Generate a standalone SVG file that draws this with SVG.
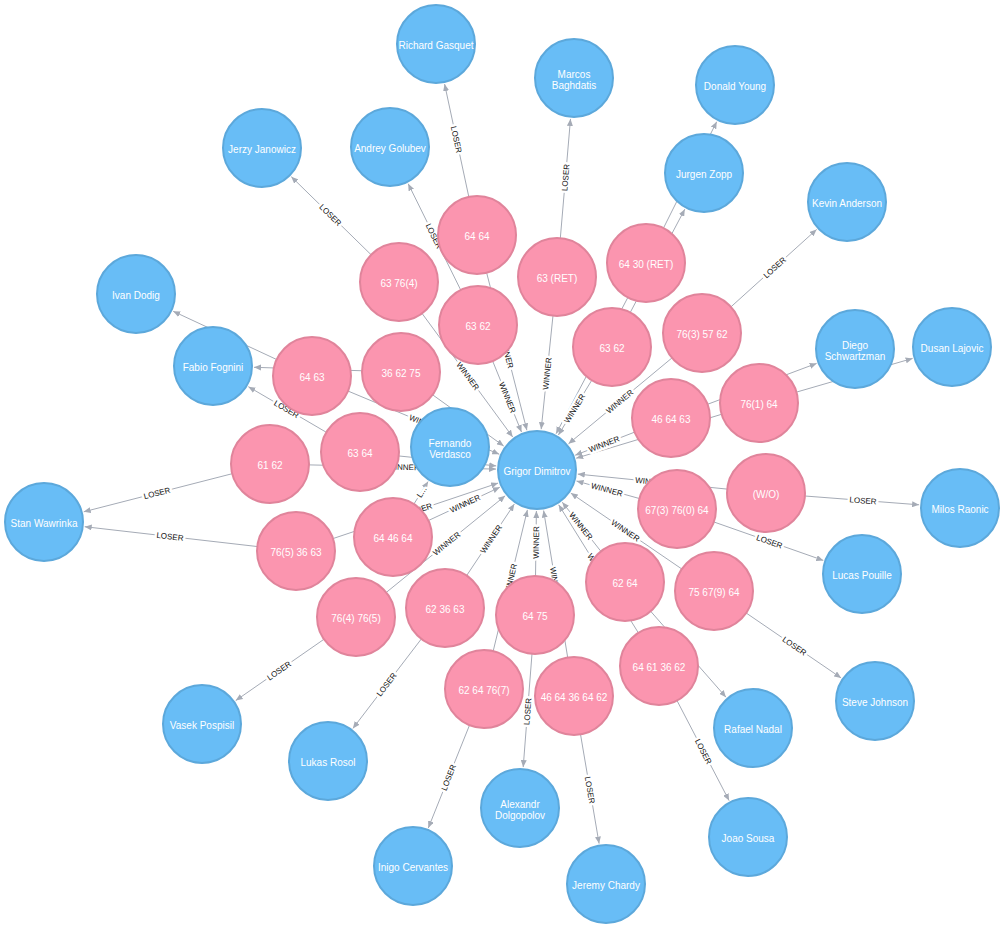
<svg xmlns="http://www.w3.org/2000/svg" width="1004" height="928" viewBox="0 0 1004 928">
<style>
.lnk{stroke:#A5ABB6;stroke-width:1;fill:none;marker-end:url(#arr)}
.lbl{font-family:"Liberation Sans",Arial,sans-serif;font-size:8px;fill:#111;text-anchor:middle;paint-order:stroke;stroke:#fff;stroke-width:5px;stroke-linejoin:round}
.pl circle{fill:#68BDF6;stroke:#5CA8DB;stroke-width:2}
.mt circle{fill:#FB95AF;stroke:#E0849B;stroke-width:2}
.cap{font-family:"Liberation Sans",Arial,sans-serif;font-size:10px;fill:#fff;text-anchor:middle}
</style>
<defs>
<marker id="arr" markerUnits="userSpaceOnUse" markerWidth="7" markerHeight="6" viewBox="0 0 7 6" refX="7" refY="3" orient="auto">
<path d="M0,0 L7,3 L0,6 z" fill="#A5ABB6"/>
</marker>
</defs>
<rect width="1004" height="928" fill="#fff"/>
<g id="connectors">
<g id="edge-lines">
<line class="lnk" x1="477" y1="235" x2="526.9" y2="430.3"/>
<line class="lnk" x1="557" y1="277" x2="541.2" y2="429.2"/>
<line class="lnk" x1="646" y1="263" x2="556.1" y2="433.7"/>
<line class="lnk" x1="399" y1="282" x2="512.7" y2="437"/>
<line class="lnk" x1="478" y1="325" x2="521.5" y2="432"/>
<line class="lnk" x1="612" y1="347" x2="558.4" y2="435"/>
<line class="lnk" x1="702" y1="333" x2="568.5" y2="443.8"/>
<line class="lnk" x1="312" y1="376" x2="499.2" y2="454.2"/>
<line class="lnk" x1="401" y1="372" x2="503.7" y2="446"/>
<line class="lnk" x1="671" y1="418" x2="575.2" y2="455.2"/>
<line class="lnk" x1="759" y1="403" x2="576.2" y2="458.2"/>
<line class="lnk" x1="270" y1="464" x2="496" y2="469.1"/>
<line class="lnk" x1="360" y1="452" x2="496.2" y2="465.9"/>
<line class="lnk" x1="766" y1="493" x2="577.8" y2="474.1"/>
<line class="lnk" x1="677" y1="509" x2="576.5" y2="481"/>
<line class="lnk" x1="393" y1="537" x2="499.8" y2="487.3"/>
<line class="lnk" x1="296" y1="551" x2="498.1" y2="483.1"/>
<line class="lnk" x1="625" y1="582" x2="562.3" y2="502.2"/>
<line class="lnk" x1="714" y1="591" x2="570.8" y2="493.1"/>
<line class="lnk" x1="356" y1="617" x2="505.2" y2="495.8"/>
<line class="lnk" x1="445" y1="608" x2="514.3" y2="504.1"/>
<line class="lnk" x1="535" y1="615" x2="536.4" y2="511"/>
<line class="lnk" x1="484" y1="689" x2="527.4" y2="509.9"/>
<line class="lnk" x1="574" y1="696" x2="543.6" y2="510.5"/>
<line class="lnk" x1="659" y1="666" x2="558.7" y2="504.8"/>
<line class="lnk" x1="477" y1="235" x2="444.6" y2="84.1"/>
<line class="lnk" x1="557" y1="277" x2="570.5" y2="118.9"/>
<line class="lnk" x1="646" y1="263" x2="716.7" y2="121.7"/>
<line class="lnk" x1="612" y1="347" x2="684.8" y2="209.2"/>
<line class="lnk" x1="702" y1="333" x2="816.6" y2="229.5"/>
<line class="lnk" x1="399" y1="282" x2="291.3" y2="176.7"/>
<line class="lnk" x1="478" y1="325" x2="408.2" y2="183.7"/>
<line class="lnk" x1="401" y1="372" x2="254" y2="367.3"/>
<line class="lnk" x1="312" y1="376" x2="173.2" y2="311.3"/>
<line class="lnk" x1="360" y1="452" x2="248.4" y2="386.7"/>
<line class="lnk" x1="270" y1="464" x2="83.7" y2="511.8"/>
<line class="lnk" x1="296" y1="551" x2="84.7" y2="526.7"/>
<line class="lnk" x1="393" y1="537" x2="428.1" y2="481.6"/>
<line class="lnk" x1="671" y1="418" x2="816.6" y2="363.4"/>
<line class="lnk" x1="759" y1="403" x2="912.6" y2="358.4"/>
<line class="lnk" x1="766" y1="493" x2="919.1" y2="504.8"/>
<line class="lnk" x1="677" y1="509" x2="823.3" y2="560.4"/>
<line class="lnk" x1="714" y1="591" x2="841.1" y2="677.9"/>
<line class="lnk" x1="625" y1="582" x2="726" y2="697.2"/>
<line class="lnk" x1="659" y1="666" x2="729.1" y2="800.6"/>
<line class="lnk" x1="356" y1="617" x2="235.7" y2="700.6"/>
<line class="lnk" x1="445" y1="608" x2="352.9" y2="728.4"/>
<line class="lnk" x1="484" y1="689" x2="428.3" y2="828"/>
<line class="lnk" x1="535" y1="615" x2="523.2" y2="767.1"/>
<line class="lnk" x1="574" y1="696" x2="599.1" y2="843.6"/>
</g>
<g id="edge-labels">
<text class="lbl" transform="translate(507,352.5) rotate(75.7)" y="2.9">WINNER</text>
<text class="lbl" transform="translate(547,373.5) rotate(-84.1)" y="2.9">WINNER</text>
<text class="lbl" transform="translate(468,376) rotate(53.7)" y="2.9">WINNER</text>
<text class="lbl" transform="translate(507.5,397.5) rotate(67.9)" y="2.9">WINNER</text>
<text class="lbl" transform="translate(574.5,408.5) rotate(-58.6)" y="2.9">WINNER</text>
<text class="lbl" transform="translate(619.5,401.5) rotate(-39.7)" y="2.9">WINNER</text>
<text class="lbl" transform="translate(424.5,423) rotate(22.7)" y="2.9">WINNER</text>
<text class="lbl" transform="translate(604,444) rotate(-21.2)" y="2.9">WINNER</text>
<text class="lbl" transform="translate(403.5,467) rotate(1.3)" y="2.9">WINNER</text>
<text class="lbl" transform="translate(651.5,481.5) rotate(5.7)" y="2.9">WINNER</text>
<text class="lbl" transform="translate(607,489.5) rotate(15.6)" y="2.9">WINNER</text>
<text class="lbl" transform="translate(465,503.5) rotate(-24.9)" y="2.9">WINNER</text>
<text class="lbl" transform="translate(416.5,510.5) rotate(-18.6)" y="2.9">WINNER</text>
<text class="lbl" transform="translate(581,526) rotate(51.8)" y="2.9">WINNER</text>
<text class="lbl" transform="translate(625.5,530.5) rotate(34.4)" y="2.9">WINNER</text>
<text class="lbl" transform="translate(446.5,543.5) rotate(-39.1)" y="2.9">WINNER</text>
<text class="lbl" transform="translate(491,539) rotate(-56.3)" y="2.9">WINNER</text>
<text class="lbl" transform="translate(536,542.5) rotate(-89.2)" y="2.9">WINNER</text>
<text class="lbl" transform="translate(510.5,579.5) rotate(-76.4)" y="2.9">WINNER</text>
<text class="lbl" transform="translate(555.5,583) rotate(80.7)" y="2.9">WINNER</text>
<text class="lbl" transform="translate(598,568) rotate(58.1)" y="2.9">WINNER</text>
<text class="lbl" transform="translate(456.5,139.5) rotate(77.9)" y="2.9">LOSER</text>
<text class="lbl" transform="translate(565.5,177.5) rotate(-85.1)" y="2.9">LOSER</text>
<text class="lbl" transform="translate(774.5,267.5) rotate(-42.1)" y="2.9">LOSER</text>
<text class="lbl" transform="translate(330.5,215) rotate(44.4)" y="2.9">LOSER</text>
<text class="lbl" transform="translate(434,236) rotate(63.7)" y="2.9">LOSER</text>
<text class="lbl" transform="translate(286.5,409) rotate(30.3)" y="2.9">LOSER</text>
<text class="lbl" transform="translate(157,493) rotate(-14.4)" y="2.9">LOSER</text>
<text class="lbl" transform="translate(170,536.5) rotate(6.6)" y="2.9">LOSER</text>
<text class="lbl" transform="translate(421.5,492) rotate(-57.7)" y="2.9">L...</text>
<text class="lbl" transform="translate(863,500.5) rotate(4.4)" y="2.9">LOSER</text>
<text class="lbl" transform="translate(769.5,541.5) rotate(19.4)" y="2.9">LOSER</text>
<text class="lbl" transform="translate(794.5,646) rotate(34.3)" y="2.9">LOSER</text>
<text class="lbl" transform="translate(703.5,751.5) rotate(62.5)" y="2.9">LOSER</text>
<text class="lbl" transform="translate(279,670.5) rotate(-34.8)" y="2.9">LOSER</text>
<text class="lbl" transform="translate(386.5,684.5) rotate(-52.6)" y="2.9">LOSER</text>
<text class="lbl" transform="translate(448.5,777.5) rotate(-68.1)" y="2.9">LOSER</text>
<text class="lbl" transform="translate(527.5,711.5) rotate(-85.6)" y="2.9">LOSER</text>
<text class="lbl" transform="translate(590,790) rotate(80.3)" y="2.9">LOSER</text>
</g>
</g>
<g id="nodes">
<g id="m01" class="mt"><circle cx="477" cy="235" r="39"/><text class="cap" x="477" y="239.5">64 64</text></g>
<g id="m02" class="mt"><circle cx="557" cy="277" r="39"/><text class="cap" x="557" y="281.5">63 (RET)</text></g>
<g id="m03" class="mt"><circle cx="646" cy="263" r="39"/><text class="cap" x="646" y="267.5">64 30 (RET)</text></g>
<g id="m04" class="mt"><circle cx="399" cy="282" r="39"/><text class="cap" x="399" y="286.5">63 76(4)</text></g>
<g id="m05" class="mt"><circle cx="478" cy="325" r="39"/><text class="cap" x="478" y="329.5">63 62</text></g>
<g id="m06" class="mt"><circle cx="612" cy="347" r="39"/><text class="cap" x="612" y="351.5">63 62</text></g>
<g id="m07" class="mt"><circle cx="702" cy="333" r="39"/><text class="cap" x="702" y="337.5">76(3) 57 62</text></g>
<g id="m08" class="mt"><circle cx="312" cy="376" r="39"/><text class="cap" x="312" y="380.5">64 63</text></g>
<g id="m09" class="mt"><circle cx="401" cy="372" r="39"/><text class="cap" x="401" y="376.5">36 62 75</text></g>
<g id="m10" class="mt"><circle cx="671" cy="418" r="39"/><text class="cap" x="671" y="422.5">46 64 63</text></g>
<g id="m11" class="mt"><circle cx="759" cy="403" r="39"/><text class="cap" x="759" y="407.5">76(1) 64</text></g>
<g id="m12" class="mt"><circle cx="270" cy="464" r="39"/><text class="cap" x="270" y="468.5">61 62</text></g>
<g id="m13" class="mt"><circle cx="360" cy="452" r="39"/><text class="cap" x="360" y="456.5">63 64</text></g>
<g id="m14" class="mt"><circle cx="766" cy="493" r="39"/><text class="cap" x="766" y="497.5">(W/O)</text></g>
<g id="m15" class="mt"><circle cx="677" cy="509" r="39"/><text class="cap" x="677" y="513.5">67(3) 76(0) 64</text></g>
<g id="m16" class="mt"><circle cx="393" cy="537" r="39"/><text class="cap" x="393" y="541.5">64 46 64</text></g>
<g id="m17" class="mt"><circle cx="296" cy="551" r="39"/><text class="cap" x="296" y="555.5">76(5) 36 63</text></g>
<g id="m18" class="mt"><circle cx="625" cy="582" r="39"/><text class="cap" x="625" y="586.5">62 64</text></g>
<g id="m19" class="mt"><circle cx="714" cy="591" r="39"/><text class="cap" x="714" y="595.5">75 67(9) 64</text></g>
<g id="m20" class="mt"><circle cx="356" cy="617" r="39"/><text class="cap" x="356" y="621.5">76(4) 76(5)</text></g>
<g id="m21" class="mt"><circle cx="445" cy="608" r="39"/><text class="cap" x="445" y="612.5">62 36 63</text></g>
<g id="m22" class="mt"><circle cx="535" cy="615" r="39"/><text class="cap" x="535" y="619.5">64 75</text></g>
<g id="m23" class="mt"><circle cx="484" cy="689" r="39"/><text class="cap" x="484" y="693.5">62 64 76(7)</text></g>
<g id="m24" class="mt"><circle cx="574" cy="696" r="39"/><text class="cap" x="574" y="700.5">46 64 36 64 62</text></g>
<g id="m25" class="mt"><circle cx="659" cy="666" r="39"/><text class="cap" x="659" y="670.5">64 61 36 62</text></g>

<g id="p-grigor-dimitrov" class="pl"><circle cx="537" cy="470" r="39"/><text class="cap" x="537" y="474.5">Grigor Dimitrov</text></g>
<g id="p-richard-gasquet" class="pl"><circle cx="436" cy="44" r="39"/><text class="cap" x="436" y="48.5">Richard Gasquet</text></g>
<g id="p-marcos-baghdatis" class="pl"><circle cx="574" cy="78" r="39"/><text class="cap" x="574" y="78">Marcos</text><text class="cap" x="574" y="88.5">Baghdatis</text></g>
<g id="p-donald-young" class="pl"><circle cx="735" cy="85" r="39"/><text class="cap" x="735" y="89.5">Donald Young</text></g>
<g id="p-jerzy-janowicz" class="pl"><circle cx="262" cy="148" r="39"/><text class="cap" x="262" y="152.5">Jerzy Janowicz</text></g>
<g id="p-andrey-golubev" class="pl"><circle cx="390" cy="147" r="39"/><text class="cap" x="390" y="151.5">Andrey Golubev</text></g>
<g id="p-jurgen-zopp" class="pl"><circle cx="704" cy="173" r="39"/><text class="cap" x="704" y="177.5">Jurgen Zopp</text></g>
<g id="p-kevin-anderson" class="pl"><circle cx="847" cy="202" r="39"/><text class="cap" x="847" y="206.5">Kevin Anderson</text></g>
<g id="p-ivan-dodig" class="pl"><circle cx="136" cy="294" r="39"/><text class="cap" x="136" y="298.5">Ivan Dodig</text></g>
<g id="p-fabio-fognini" class="pl"><circle cx="213" cy="366" r="39"/><text class="cap" x="213" y="370.5">Fabio Fognini</text></g>
<g id="p-diego-schwartzman" class="pl"><circle cx="855" cy="349" r="39"/><text class="cap" x="855" y="349">Diego</text><text class="cap" x="855" y="359.5">Schwartzman</text></g>
<g id="p-dusan-lajovic" class="pl"><circle cx="952" cy="347" r="39"/><text class="cap" x="952" y="351.5">Dusan Lajovic</text></g>
<g id="p-fernando-verdasco" class="pl"><circle cx="450" cy="447" r="39"/><text class="cap" x="450" y="447">Fernando</text><text class="cap" x="450" y="457.5">Verdasco</text></g>
<g id="p-stan-wawrinka" class="pl"><circle cx="44" cy="522" r="39"/><text class="cap" x="44" y="526.5">Stan Wawrinka</text></g>
<g id="p-milos-raonic" class="pl"><circle cx="960" cy="508" r="39"/><text class="cap" x="960" y="512.5">Milos Raonic</text></g>
<g id="p-lucas-pouille" class="pl"><circle cx="862" cy="574" r="39"/><text class="cap" x="862" y="578.5">Lucas Pouille</text></g>
<g id="p-steve-johnson" class="pl"><circle cx="875" cy="701" r="39"/><text class="cap" x="875" y="705.5">Steve Johnson</text></g>
<g id="p-vasek-pospisil" class="pl"><circle cx="202" cy="724" r="39"/><text class="cap" x="202" y="728.5">Vasek Pospisil</text></g>
<g id="p-rafael-nadal" class="pl"><circle cx="753" cy="728" r="39"/><text class="cap" x="753" y="732.5">Rafael Nadal</text></g>
<g id="p-lukas-rosol" class="pl"><circle cx="328" cy="761" r="39"/><text class="cap" x="328" y="765.5">Lukas Rosol</text></g>
<g id="p-alexandr-dolgopolov" class="pl"><circle cx="520" cy="808" r="39"/><text class="cap" x="520" y="808">Alexandr</text><text class="cap" x="520" y="818.5">Dolgopolov</text></g>
<g id="p-joao-sousa" class="pl"><circle cx="748" cy="837" r="39"/><text class="cap" x="748" y="841.5">Joao Sousa</text></g>
<g id="p-inigo-cervantes" class="pl"><circle cx="413" cy="866" r="39"/><text class="cap" x="413" y="870.5">Inigo Cervantes</text></g>
<g id="p-jeremy-chardy" class="pl"><circle cx="606" cy="884" r="39"/><text class="cap" x="606" y="888.5">Jeremy Chardy</text></g>
</g>
</svg>
